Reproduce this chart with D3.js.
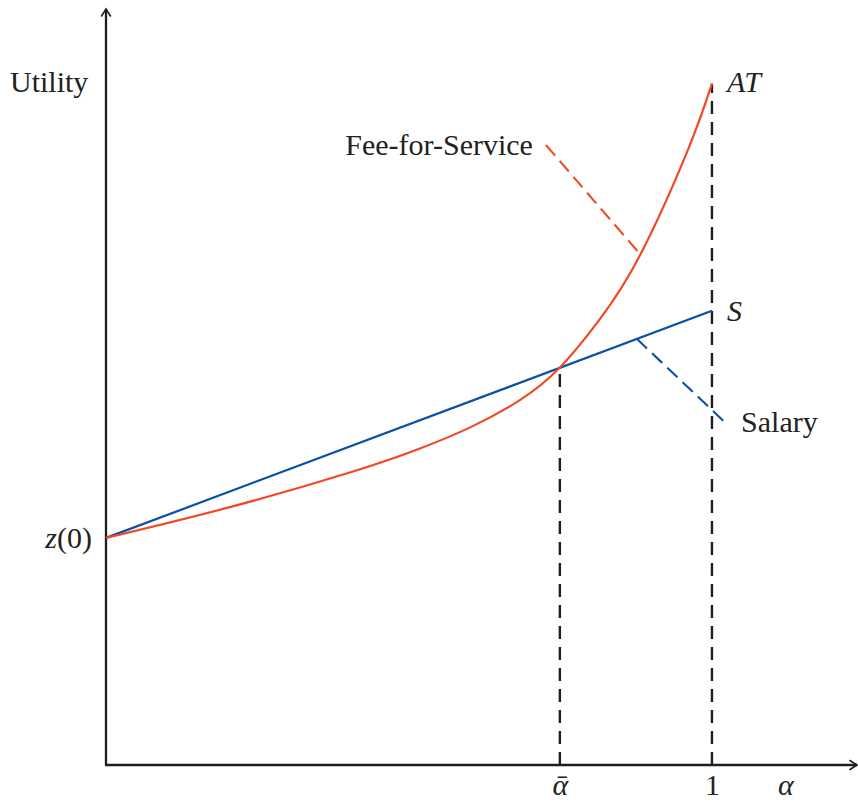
<!DOCTYPE html>
<html>
<head>
<meta charset="utf-8">
<script src="https://cdn.jsdelivr.net/npm/d3@7"></script>
<style>
body { margin: 0; background: #fff; }
text { font-family: "Liberation Serif", "DejaVu Serif", serif; fill: #222; }
</style>
</head>
<body>
<div id="chart"></div>
<script>
// values (alpha on x, utility on y)
var alphaBar = 0.749
var tickValues = [alphaBar, 1]
var tickLabels = ["ᾱ", "1"]
var z0 = 3

var salary = [{a:0,u:3},{a:1,u:6}]

var feeForService = [{a:0,u:3.0},{a:0.206,u:3.41},{a:0.413,u:3.89},{a:0.518,u:4.18},{a:0.601,u:4.46},{a:0.683,u:4.82},
  {a:0.749,u:5.25},{a:0.815,u:5.89},{a:0.881,u:6.73},{a:0.96,u:8.12},{a:1,u:9.0}]

var feeLeader = [{a:0.726,u:8.19},{a:0.878,u:6.78}]
var salaryLeader = [{a:0.876,u:5.63},{a:1.025,u:4.5}]

var red = "#ef4a24"
var blue = "#0b4fa6"
var ink = "#1e1e1e"

var svg = d3.select("#chart")
.append("svg")
.attr("width",858)
.attr("height",803)

var xScale = d3.scaleLinear()
.domain([0,1.241])
.range([106,858])

var yScale = d3.scaleLinear()
.domain([0,10])
.range([765,8])

var defs = svg.append("defs")
defs.append("marker")
.attr("id","tip")
.attr("viewBox","-10 -6 12 12")
.attr("refX",0)
.attr("refY",0)
.attr("markerWidth",12)
.attr("markerHeight",12)
.attr("markerUnits","userSpaceOnUse")
.attr("orient","auto")
.append("path")
.attr("d","M-7,-4.5 Q-2,-1.2 0,0 Q-2,1.2 -7,4.5")
.attr("fill","none")
.attr("stroke",ink)
.attr("stroke-width",1.6)
.attr("stroke-linecap","round")

// axes with arrows
svg.append("line")
.attr("x1",xScale(0)).attr("y1",yScale(0))
.attr("x2",xScale(0)).attr("y2",yScale(10)+1)
.attr("stroke",ink).attr("stroke-width",2.3)
.attr("marker-end","url(#tip)")

svg.append("line")
.attr("x1",xScale(0)-1).attr("y1",yScale(0))
.attr("x2",xScale(1.241)-1).attr("y2",yScale(0))
.attr("stroke",ink).attr("stroke-width",2.3)
.attr("marker-end","url(#tip)")

// vertical dashed guides
var guides = [{a:alphaBar,u:3+3*alphaBar},{a:1,u:9}]
svg.selectAll(".guide")
.data(guides)
.enter().append("line")
.attr("x1",function(d){return xScale(d.a)})
.attr("x2",function(d){return xScale(d.a)})
.attr("y1",yScale(0))
.attr("y2",function(d){return yScale(d.u)})
.attr("stroke",ink)
.attr("stroke-width",2.4)
.attr("stroke-dasharray","13,8")

var line = d3.line()
.x(function(d){return xScale(d.a)})
.y(function(d){return yScale(d.u)})

svg.append("path")
.datum(salary)
.attr("d",line)
.attr("fill","none")
.attr("stroke",blue)
.attr("stroke-width",2.2)

svg.append("path")
.datum(feeForService)
.attr("d",line.curve(d3.curveNatural))
.attr("fill","none")
.attr("stroke",red)
.attr("stroke-width",2.2)

line.curve(d3.curveLinear)

svg.append("path")
.datum(feeLeader)
.attr("d",line)
.attr("fill","none")
.attr("stroke",red)
.attr("stroke-width",2.1)
.attr("stroke-dasharray","14,7")

svg.append("path")
.datum(salaryLeader)
.attr("d",line)
.attr("fill","none")
.attr("stroke",blue)
.attr("stroke-width",2.1)
.attr("stroke-dasharray","14,7")

// x tick labels through an axis
var xAxis = d3.axisBottom(xScale)
.tickValues(tickValues)
.tickSize(0)
.tickPadding(9)
.tickFormat(function(d,i){return tickLabels[i]})

var gx = svg.append("g")
.attr("transform","translate(0,"+yScale(0)+")")
.call(xAxis)
gx.select(".domain").remove()
gx.selectAll("text")
.attr("font-size",30)
.attr("font-style",function(d,i){return i==0?"italic":"normal"})

var yAxis = d3.axisLeft(yScale)
.tickValues([z0])
.tickSize(0)
.tickPadding(14)
.tickFormat(function(){return ""})

var gy = svg.append("g")
.attr("transform","translate("+xScale(0)+",0)")
.call(yAxis)
gy.select(".domain").remove()
var zt = gy.select(".tick text")
.attr("font-size",30)
zt.append("tspan").attr("font-style","italic").text("z")
zt.append("tspan").text("(0)")

svg.append("text")
.attr("x",778)
.attr("y",yScale(0)+30)
.attr("font-size",30)
.attr("font-style","italic")
.text("α")

svg.append("text")
.attr("x",10).attr("y",92)
.attr("font-size",30)
.text("Utility")

svg.append("text")
.attr("x",xScale(feeLeader[0].a)-13)
.attr("y",yScale(feeLeader[0].u)+10)
.attr("text-anchor","end")
.attr("font-size",30)
.text("Fee-for-Service")

svg.append("text")
.attr("x",xScale(salaryLeader[1].a)+14)
.attr("y",yScale(salaryLeader[1].u)+8)
.attr("font-size",30)
.text("Salary")

svg.append("text")
.attr("x",xScale(1)+15)
.attr("y",yScale(salary[1].u)+10)
.attr("font-size",30)
.attr("font-style","italic")
.text("S")

svg.append("text")
.attr("x",xScale(1)+15)
.attr("y",yScale(feeForService[feeForService.length-1].u)+8)
.attr("font-size",30)
.attr("font-style","italic")
.text("AT")
</script>
</body>
</html>
